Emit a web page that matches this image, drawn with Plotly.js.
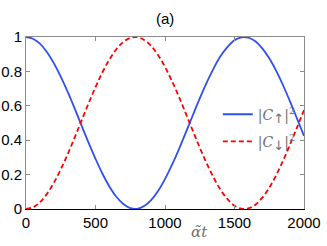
<!DOCTYPE html>
<html><head><meta charset="utf-8">
<script src="https://cdn.plot.ly/plotly-3.0.1.min.js"></script>
<style>body{margin:0;padding:0;background:#fff}#chart{width:327px;height:246px}</style>
</head><body><div id="chart"></div>
<script>
var tValues = [0,50,100,150,200,250,300,350,400,450,500,550,600,650,700,750,800,850,900,950,1000,1050,1100,1150,1200,1250,1300,1350,1400,1450,1500,1550,1600,1650,1700,1750,1800,1850,1900,1950,2000];
var upValues = [1.000,0.990,0.961,0.913,0.848,0.770,0.681,0.585,0.485,0.386,0.292,0.205,0.131,0.071,0.029,0.005,0.001,0.017,0.052,0.105,0.174,0.256,0.347,0.445,0.545,0.643,0.735,0.818,0.889,0.943,0.981,0.998,0.996,0.975,0.934,0.876,0.803,0.718,0.624,0.525,0.425];
var downValues = [0.000,0.010,0.039,0.087,0.152,0.230,0.319,0.415,0.515,0.614,0.708,0.795,0.869,0.929,0.971,0.995,0.999,0.983,0.948,0.895,0.826,0.744,0.653,0.555,0.455,0.357,0.265,0.182,0.111,0.057,0.019,0.002,0.004,0.025,0.066,0.124,0.197,0.282,0.376,0.475,0.575];
var xTicks = [0,500,1000,1500,2000];
var yTicks = [0,0.2,0.4,0.6,0.8,1];
var yTickText = ['0','0.2','0.4','0.6','0.8','1'];
var names = ['|<i>C</i><sub><span style="font-family:DejaVu Sans;font-size:13px">↑</span></sub>|<sup>2</sup>',
             '|<i>C</i><sub><span style="font-family:DejaVu Sans;font-size:13px">↓</span></sub>|<sup>2</sup>'];

var traces = [
  {x:tValues, y:upValues, type:'scatter', mode:'lines', name:names[0], legendgroup:'a',
   line:{color:'#2f4ff5', width:1.8, shape:'spline'}},
  {x:tValues, y:downValues, type:'scatter', mode:'lines', name:names[1], legendgroup:'b',
   line:{color:'#ff0000', width:1.8, dash:'5px,3px', shape:'spline'}},
  {x:[0], y:[0], xaxis:'x2', mode:'none', showlegend:false, hoverinfo:'skip'}
];
var gray = '#8c8c8c';
var layout = {
  width:327, height:246,
  margin:{l:26, r:23, t:37, b:37},
  paper_bgcolor:'#fff', plot_bgcolor:'#fff',
  font:{family:'Liberation Sans, Arial, sans-serif', size:15, color:'#000'},
  title:{text:'(a)', x:0.505, xanchor:'center', y:0.925, yanchor:'middle', font:{size:15, color:'#000'}},
  showlegend:true,
  legend:{x:0.69, y:0.47, xanchor:'left', yanchor:'middle', bgcolor:'rgba(0,0,0,0)', borderwidth:0,
    traceorder:'grouped', tracegroupgap:6, itemwidth:30,
    font:{family:'DejaVu Serif, Liberation Serif, serif', size:14, color:'#707070'}},
  xaxis:{range:[0,2000], tickvals:xTicks, ticktext:xTicks.map(String), ticks:'inside', ticklen:4,
    tickcolor:gray, showline:true, linecolor:'#000', linewidth:1, mirror:false, showgrid:false, zeroline:false,
    tickfont:{size:15}, ticklabelstandoff:0},
  xaxis2:{range:[0,2000], overlaying:'x', side:'top', tickvals:xTicks, showticklabels:false, ticks:'inside', ticklen:4,
    tickcolor:gray, showline:true, linecolor:gray, linewidth:1, showgrid:false, zeroline:false},
  yaxis:{range:[0,1], tickvals:yTicks, ticktext:yTickText, ticks:'inside', ticklen:4, tickcolor:gray,
    showline:true, linecolor:gray, linewidth:1, mirror:'ticks', showgrid:false, zeroline:false,
    tickfont:{size:15}, ticklabelstandoff:0},
  annotations:[{text:'<i>α̃t</i>', xref:'x', yref:'paper', x:1245, y:-0.07, xanchor:'center', yanchor:'top',
    showarrow:false, font:{family:'DejaVu Serif, Liberation Serif, serif', size:15, color:'#707070'}}]
};
Plotly.newPlot('chart', traces, layout, {displayModeBar:false, staticPlot:true});
</script></body></html>
